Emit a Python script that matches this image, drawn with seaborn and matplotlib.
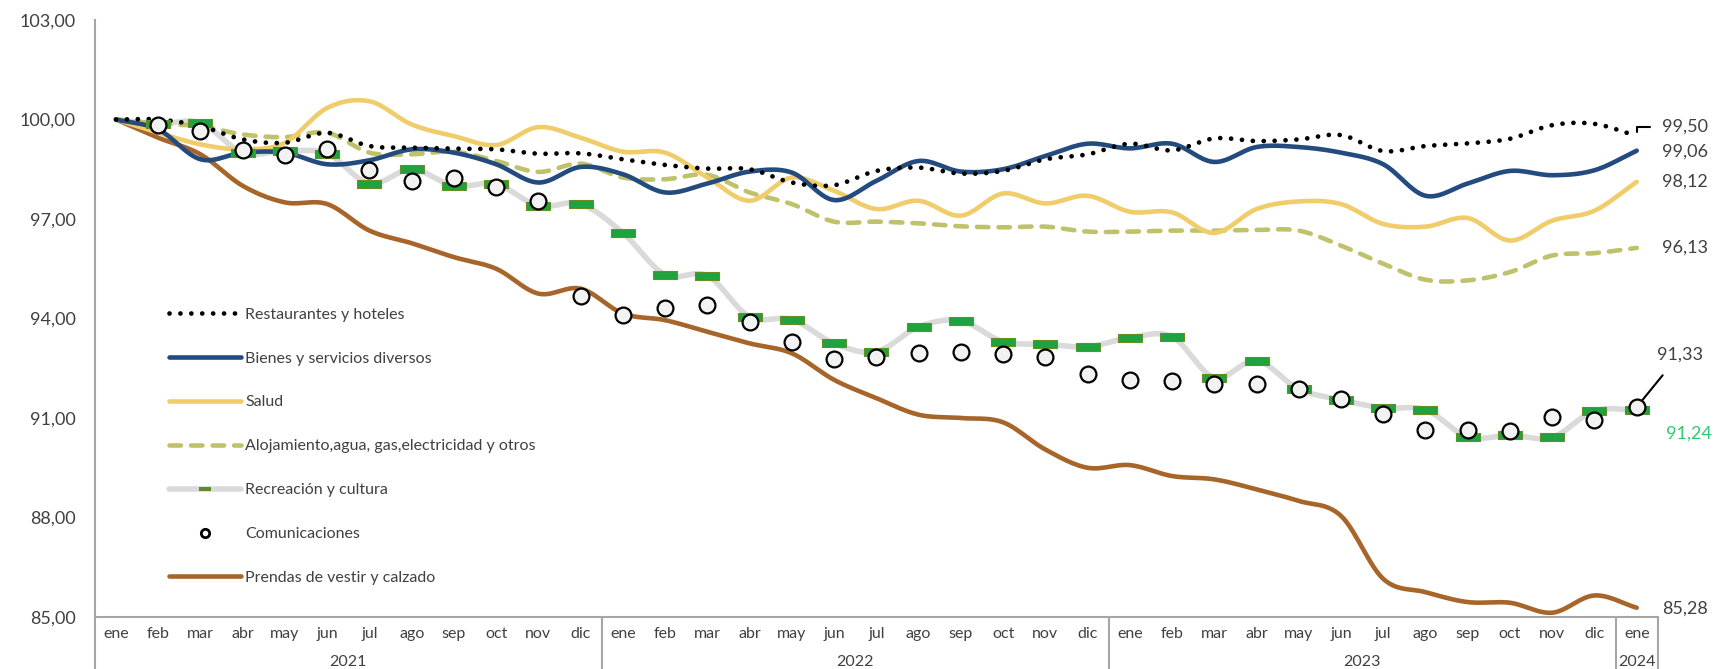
import numpy as np
import matplotlib
matplotlib.use('Agg')
import matplotlib.pyplot as plt
import seaborn as sns
from matplotlib.lines import Line2D

meses = ['ene', 'feb', 'mar', 'abr', 'may', 'jun', 'jul', 'ago', 'sep', 'oct', 'nov', 'dic'] * 3 + ['ene']
anios = ['2021', '2022', '2023', '2024']

restaurantes = [100.00, 100.00, 99.80, 99.40, 99.30, 99.60, 99.20, 99.15, 99.12, 99.10, 98.97, 98.98,
                98.80, 98.63, 98.52, 98.50, 98.10, 98.02, 98.45, 98.55, 98.37, 98.45, 98.80, 98.95,
                99.27, 99.07, 99.43, 99.35, 99.40, 99.53, 99.05, 99.20, 99.28, 99.42, 99.83, 99.87, 99.50]
bienes = [100.00, 99.70, 98.80, 99.00, 99.00, 98.65, 98.77, 99.10, 99.00, 98.65, 98.10, 98.57,
          98.35, 97.80, 98.07, 98.43, 98.40, 97.57, 98.15, 98.75, 98.43, 98.50, 98.90, 99.27,
          99.13, 99.27, 98.72, 99.17, 99.17, 99.00, 98.65, 97.70, 98.07, 98.45, 98.32, 98.47, 99.06]
salud = [100.00, 99.60, 99.25, 99.10, 99.30, 100.35, 100.55, 99.85, 99.50, 99.23, 99.77, 99.45,
         99.03, 99.00, 98.25, 97.55, 98.25, 97.85, 97.30, 97.55, 97.10, 97.77, 97.47, 97.70,
         97.22, 97.20, 96.58, 97.30, 97.53, 97.45, 96.85, 96.77, 97.03, 96.35, 96.95, 97.25, 98.12]
alojamiento = [100.00, 99.87, 99.80, 99.55, 99.47, 99.60, 99.00, 98.95, 99.03, 98.75, 98.42, 98.67,
               98.25, 98.20, 98.33, 97.80, 97.45, 96.92, 96.92, 96.87, 96.78, 96.75, 96.77, 96.62,
               96.62, 96.65, 96.65, 96.67, 96.65, 96.20, 95.65, 95.17, 95.15, 95.40, 95.90, 95.97, 96.13]
recreacion = [100.00, 99.87, 99.90, 99.00, 99.05, 98.97, 98.07, 98.50, 98.00, 98.05, 97.40, 97.45,
              96.58, 95.32, 95.29, 94.05, 93.97, 93.25, 93.00, 93.75, 93.93, 93.30, 93.23, 93.15,
              93.42, 93.45, 92.22, 92.73, 91.87, 91.55, 91.30, 91.25, 90.43, 90.48, 90.42, 91.22, 91.24]
comunicaciones = [np.nan, 99.82, 99.65, 99.07, 98.92, 99.10, 98.48, 98.15, 98.23, 97.98, 97.55, 94.68,
                  94.10, 94.33, 94.40, 93.88, 93.30, 92.77, 92.83, 92.97, 92.98, 92.92, 92.84, 92.33,
                  92.15, 92.12, 92.03, 92.02, 91.87, 91.58, 91.12, 90.63, 90.63, 90.60, 91.02, 90.95, 91.33]
prendas = [100.00, 99.45, 98.95, 98.00, 97.50, 97.45, 96.65, 96.27, 95.85, 95.50, 94.75, 94.90,
           94.15, 93.95, 93.60, 93.25, 92.95, 92.15, 91.60, 91.10, 91.00, 90.87, 90.05, 89.50,
           89.58, 89.25, 89.15, 88.85, 88.50, 88.05, 86.15, 85.75, 85.45, 85.43, 85.13, 85.65, 85.28]

C_REST = '#000000'
C_BIEN = '#234B7F'
C_SALUD = '#F0CD6A'
C_ALOJ = '#BFC26B'
C_RECR = '#DADADA'
C_VERDE = '#1DA33F'
C_PREN = '#A8652A'
C_TXT = '#404040'


def suavizar(y, n=14):
    # curva suave tipo Excel (Catmull-Rom) sólo para el trazo
    y = np.asarray(y, float)
    p = np.concatenate([[2 * y[0] - y[1]], y, [2 * y[-1] - y[-2]]])
    xs, ys = [], []
    t = np.linspace(0, 1, n, endpoint=False)
    for i in range(len(y) - 1):
        p0, p1, p2, p3 = p[i], p[i + 1], p[i + 2], p[i + 3]
        yy = 0.5 * (2 * p1 + (-p0 + p2) * t + (2 * p0 - 5 * p1 + 4 * p2 - p3) * t ** 2
                    + (-p0 + 3 * p1 - 3 * p2 + p3) * t ** 3)
        xs.extend(i + t)
        ys.extend(yy)
    xs.append(len(y) - 1)
    ys.append(y[-1])
    return np.array(xs), np.array(ys)


sns.set_style('white')
plt.rcParams['font.family'] = ['Lato', 'DejaVu Sans']

fig = plt.figure(figsize=(17.16, 6.69), dpi=100)
ax = fig.add_axes([0.0553, 0.0777, 0.9108, 0.8924])

x = np.arange(len(meses))


def linea(vals, color, lw, estilo=None, z=2):
    xs, ys = suavizar(vals)
    sns.lineplot(x=xs, y=ys, ax=ax, color=color, lw=lw, zorder=z, sort=False)
    ln = ax.lines[-1]
    ln.set_solid_capstyle('round')
    if estilo is not None:
        ln.set_linestyle(estilo)
        ln.set_dash_capstyle('round')
    return ln


linea(prendas, C_PREN, 3.3, z=2)
linea(recreacion, C_RECR, 4.0, z=3)
linea(alojamiento, C_ALOJ, 3.3, (0, (2.5, 2.2)), z=4)
linea(salud, C_SALUD, 3.3, z=5)
linea(bienes, C_BIEN, 3.3, z=6)
linea(restaurantes, C_REST, 3.4, (0, (0.01, 2.3)), z=7)

rect = [(-1, -0.3), (1, -0.3), (1, 0.3), (-1, 0.3), (-1, -0.3)]
sns.scatterplot(x=x[1:], y=recreacion[1:], ax=ax, marker=rect, s=300, color=C_VERDE,
                edgecolor='#6B8E23', linewidth=0.8, zorder=8)
sns.scatterplot(x=x, y=comunicaciones, ax=ax, marker='o', s=130, color='#F2F2F2',
                edgecolor='black', linewidth=1.6, zorder=9)

ax.set_xlim(-0.5, len(meses) - 0.5)
ax.set_ylim(85, 103)
ax.set_yticks(np.arange(85, 103.1, 3))
ax.set_yticklabels([f'{v:.2f}'.replace('.', ',') for v in np.arange(85, 103.1, 3)],
                   fontsize=13, color=C_TXT)
ax.tick_params(axis='y', length=0, pad=14)

ax.set_xticks(x)
ax.set_xticklabels(meses, fontsize=11.5, color=C_TXT)
ax.tick_params(axis='x', which='major', length=0, pad=7)
ax.set_xticks(np.arange(-0.5, len(meses), 1), minor=True)
ax.tick_params(axis='x', which='minor', length=20, width=1.5, color='#A6A6A6', direction='out')
ax.set_xlabel('')
ax.set_ylabel('')

for s in ['top', 'right']:
    ax.spines[s].set_visible(False)
for s in ['left', 'bottom']:
    ax.spines[s].set_color('#A6A6A6')
    ax.spines[s].set_linewidth(1.5)

# separadores de año y etiquetas de año
for b in [-0.5, 11.5, 23.5, 35.5, 36.5]:
    ax.axvline(b, ymin=-0.0875, ymax=0, color='#A6A6A6', lw=1.5, clip_on=False)
centros = [5.5, 17.5, 29.5, 36]
for c, a in zip(centros, anios):
    ax.text(c, -0.075, a, transform=ax.get_xaxis_transform(), ha='center', va='center',
            fontsize=11.5, color=C_TXT)

# etiquetas finales
ax.annotate('99,50', xy=(36, restaurantes[-1]), xytext=(18, 6.5), textcoords='offset points',
            ha='left', va='center', fontsize=13, color=C_TXT,
            arrowprops=dict(arrowstyle='-', color='black', lw=1.5, shrinkA=6, shrinkB=3,
                            connectionstyle='angle,angleA=0,angleB=90,rad=0'))
ax.annotate('99,06', xy=(36, bienes[-1]), xytext=(18, -1), textcoords='offset points',
            ha='left', va='center', fontsize=13, color=C_TXT)
ax.annotate('98,12', xy=(36, salud[-1]), xytext=(18, 0), textcoords='offset points',
            ha='left', va='center', fontsize=13, color=C_TXT)
ax.annotate('96,13', xy=(36, alojamiento[-1]), xytext=(18, 0), textcoords='offset points',
            ha='left', va='center', fontsize=13, color=C_TXT)
ax.annotate('85,28', xy=(36, prendas[-1]), xytext=(18, -1), textcoords='offset points',
            ha='left', va='center', fontsize=13, color=C_TXT)
ax.annotate('91,24', xy=(36, recreacion[-1]), xytext=(21, -17), textcoords='offset points',
            ha='left', va='center', fontsize=13, color='#2ECC71')
ax.annotate('91,33', xy=(36, comunicaciones[-1]), xytext=(31, 38), textcoords='offset points',
            ha='center', va='center', fontsize=13, color=C_TXT,
            arrowprops=dict(arrowstyle='-', color='black', lw=1.5, shrinkA=9, shrinkB=4))

# leyenda
handles = [
    Line2D([], [], color=C_REST, lw=3.4, linestyle=(0, (0.01, 2.3)), dash_capstyle='round'),
    Line2D([], [], color=C_BIEN, lw=3.3, solid_capstyle='round'),
    Line2D([], [], color=C_SALUD, lw=3.3, solid_capstyle='round'),
    Line2D([], [], color=C_ALOJ, lw=3.3, linestyle=(0, (2.5, 2.2)), dash_capstyle='round'),
    Line2D([], [], color=C_RECR, lw=4.0, marker=rect, markersize=9, markerfacecolor='#5E8A2A',
           markeredgecolor='#5E8A2A', markeredgewidth=0),
    Line2D([], [], color='none', marker='o', markersize=6, markerfacecolor='white',
           markeredgecolor='black', markeredgewidth=2),
    Line2D([], [], color=C_PREN, lw=3.3, solid_capstyle='round'),
]
labels = ['Restaurantes y hoteles', 'Bienes y servicios diversos', 'Salud',
          'Alojamiento,agua, gas,electricidad y otros', 'Recreación y cultura',
          'Comunicaciones', 'Prendas de vestir y calzado']
leg = ax.legend(handles, labels, loc='center left', bbox_to_anchor=(0.038, 0.286),
                frameon=False, fontsize=11.5, handlelength=4.5, handletextpad=0.3,
                labelspacing=1.86, labelcolor=C_TXT)

fig.savefig('out.png', dpi=100)
